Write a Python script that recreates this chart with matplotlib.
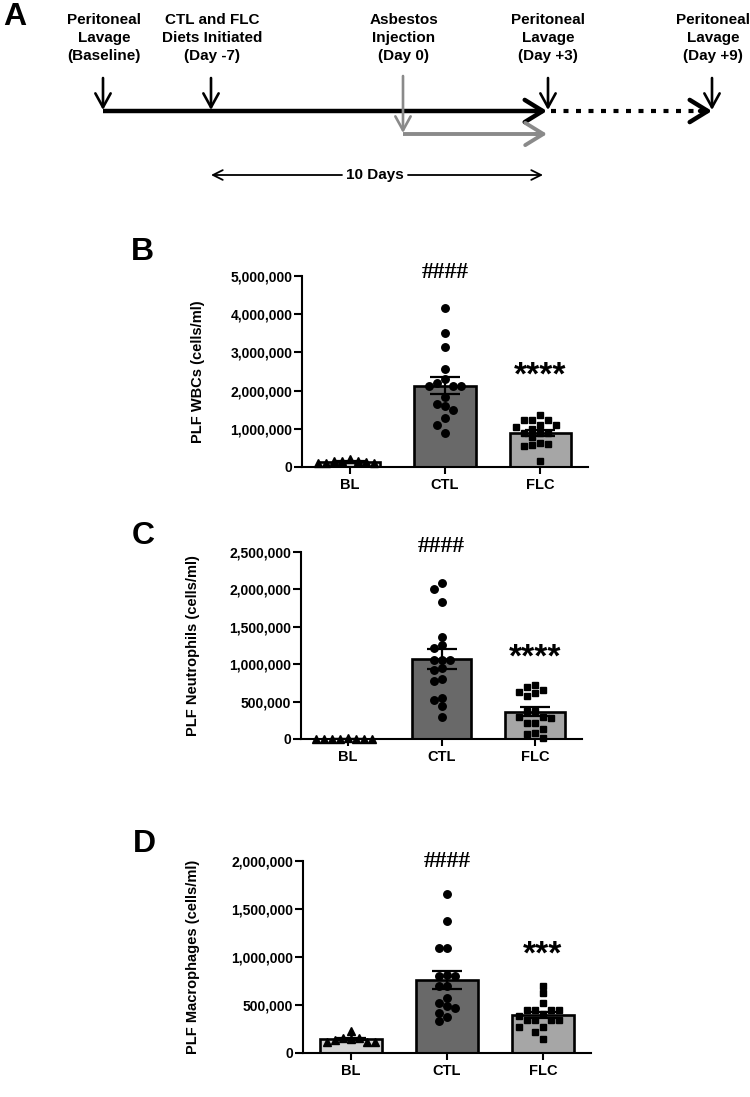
import numpy as np
import matplotlib
matplotlib.use("Agg")
import matplotlib.pyplot as plt
from matplotlib.ticker import FuncFormatter

plt.rcParams['font.family'] = ['Liberation Sans', 'DejaVu Sans']
plt.rcParams['font.weight'] = 'bold'

# groups
groups = ["BL", "CTL", "FLC"]

# panel B - white blood cells (millions of cells/ml)
bl_wbc = [0.17, 0.15, 0.10, 0.10, 0.10, 0.15, 0.21, 0.13]
ctl_wbc = [4.16, 3.52, 3.15, 2.57, 2.31, 2.19, 2.13, 2.13, 2.13, 1.82, 1.64, 1.59,
           1.49, 1.29, 1.11, 0.88]
flc_wbc = [1.35, 1.24, 1.24, 1.24, 1.10, 1.10, 1.06, 1.00, 0.89, 0.89, 0.89, 0.78,
           0.62, 0.58, 0.54, 0.61, 0.15]

# panel C - neutrophils
bl_neu = [0.004, 0.006, 0.005, 0.003, 0.006, 0.004, 0.005, 0.007]
ctl_neu = [2.08, 2.01, 1.83, 1.37, 1.26, 1.21, 1.06, 1.06, 1.06, 0.92, 0.95, 0.80,
           0.77, 0.55, 0.52, 0.44, 0.29]
flc_neu = [0.72, 0.69, 0.66, 0.63, 0.61, 0.57, 0.38, 0.37, 0.30, 0.29, 0.28, 0.22,
           0.22, 0.13, 0.08, 0.07, 0.02]

# panel D - macrophages
bl_mac = [0.16, 0.15, 0.11, 0.23, 0.11, 0.11, 0.14, 0.16]
ctl_mac = [1.66, 1.37, 1.09, 1.09, 0.80, 0.80, 0.81, 0.70, 0.70, 0.57, 0.52, 0.49,
           0.47, 0.42, 0.37, 0.33]
flc_mac = [0.70, 0.62, 0.52, 0.45, 0.45, 0.45, 0.45, 0.41, 0.39, 0.34, 0.34, 0.34,
           0.34, 0.27, 0.27, 0.22, 0.15]

# significance marks (height in millions)
hash_marks = ["####", "####", "####"]
hash_y = [5.09, 2.58, 1.99]
star_marks = ["****", "****", "***"]
star_y = [2.66, 1.22, 1.13]

ylabels = ["PLF WBCs (cells/ml)", "PLF Neutrophils (cells/ml)", "PLF Macrophages (cells/ml)"]
ymax = [5.0, 2.5, 2.0]
ystep = [1.0, 0.5, 0.5]

# timeline (panel A)
event_labels = ["Peritoneal\nLavage\n(Baseline)", "CTL and FLC\nDiets Initiated\n(Day -7)",
                "Asbestos\nInjection\n(Day 0)", "Peritoneal\nLavage\n(Day +3)",
                "Peritoneal\nLavage\n(Day +9)"]
event_x = [103, 211, 403, 547, 712]

W, H = 750, 1097
fig = plt.figure(figsize=(W / 100, H / 100), dpi=100)
fig.patch.set_facecolor('white')


def px_axes(l, t, r, b):
    return fig.add_axes([l / W, 1 - b / H, (r - l) / W, (b - t) / H])


# overlay for panel A and letters, in pixel units
ov = px_axes(0, 0, W, H)
ov.set_xlim(0, W)
ov.set_ylim(H, 0)
ov.axis('off')

for lab, x in zip(event_labels, event_x):
    ov.text(x + 1, 38, lab, ha='center', va='center', fontsize=11,
            fontweight='bold', linespacing=1.32)

line_y = 111
gray = '#8a8a8a'
big_head = 'head_length=1.3,head_width=0.8'
small_head = 'head_length=1.0,head_width=0.55'
# black down arrows
for x in [event_x[0], event_x[1], event_x[3] + 1, event_x[4]]:
    ov.annotate('', xy=(x, line_y - 1), xytext=(x, 78),
                arrowprops=dict(arrowstyle='->,' + small_head, lw=1.9, color='black',
                                shrinkA=0, shrinkB=0))
# main black timeline
ov.plot([event_x[0], event_x[3] - 10], [line_y, line_y], color='black', lw=3.2,
        solid_capstyle='butt')
ov.annotate('', xy=(event_x[3], line_y), xytext=(event_x[3] - 12, line_y),
            arrowprops=dict(arrowstyle='->,' + big_head, lw=3.2, color='black',
                            shrinkA=0, shrinkB=0))
# dotted follow-up
ov.plot([event_x[3] + 4, event_x[4] - 8], [line_y, line_y], color='black', lw=3.0,
        linestyle=(0, (1.2, 1.8)), dash_capstyle='butt')
ov.annotate('', xy=(event_x[4], line_y), xytext=(event_x[4] - 12, line_y),
            arrowprops=dict(arrowstyle='->,' + big_head, lw=3.2, color='black',
                            shrinkA=0, shrinkB=0))
# gray asbestos arrows
ov.annotate('', xy=(event_x[2], 133), xytext=(event_x[2], 76),
            arrowprops=dict(arrowstyle='->,' + small_head, lw=1.9, color=gray,
                            shrinkA=0, shrinkB=0))
ov.plot([event_x[2], event_x[3] - 10], [134, 134], color=gray, lw=2.8,
        solid_capstyle='butt')
ov.annotate('', xy=(event_x[3], 134), xytext=(event_x[3] - 12, 134),
            arrowprops=dict(arrowstyle='->,' + big_head, lw=2.8, color=gray,
                            shrinkA=0, shrinkB=0))
# 10 days span
ov.text(375, 175, "10 Days", ha='center', va='center', fontsize=11, fontweight='bold')
ov.annotate('', xy=(event_x[1], 175), xytext=(342, 175),
            arrowprops=dict(arrowstyle='->,head_length=0.7,head_width=0.35', lw=1.3,
                            color='black', shrinkA=0, shrinkB=0))
ov.annotate('', xy=(event_x[3] - 4, 175), xytext=(408, 175),
            arrowprops=dict(arrowstyle='->,head_length=0.7,head_width=0.35', lw=1.3,
                            color='black', shrinkA=0, shrinkB=0))

# panel letters
for letter, (lx, ly) in zip("ABCD", [(15, 17), (142, 252), (143, 536), (144, 844)]):
    ov.text(lx, ly, letter, ha='center', va='center', fontsize=23, fontweight='bold')

# bar panels
panel_boxes = [(302, 276, 588, 467), (301, 552, 582, 739), (303, 861, 591, 1053)]
label_x = [205, 200, 200]
datasets = [(bl_wbc, ctl_wbc, flc_wbc), (bl_neu, ctl_neu, flc_neu),
            (bl_mac, ctl_mac, flc_mac)]
bar_colors = ['#d3d3d3', '#696969', '#a6a6a6']
markers = ['^', 'o', 's']
msizes = [5.4, 5.4, 4.8]


def swarm(ax, x0, vals, diam):
    # column scatter: points closer than one marker in y share a row
    tr = ax.transData
    pts = np.array([tr.transform((x0, v)) for v in vals])
    sx = tr.transform((1, 0))[0] - tr.transform((0, 0))[0]
    offs = np.zeros(len(vals))
    placed = []
    for i in np.argsort(vals)[::-1]:
        px, py = pts[i]
        for k in [0, -1, 1, -2, 2, -3, 3, -4, 4, -5, 5, -6, 6, -7, 7, -8, 8]:
            cx = px + k * diam / 2
            if all(abs(cx - qx) >= diam or abs(py - qy) >= diam * 0.95
                   for qx, qy in placed):
                break
        placed.append((cx, py))
        offs[i] = (cx - px) / sx
    return offs


fmt = FuncFormatter(lambda v, p: f"{int(round(v)):,}")

for k, ax_box in enumerate(panel_boxes):
    ax = px_axes(*ax_box)
    ax.set_facecolor('none')
    ax.set_xlim(-0.5, 2.5)
    ax.set_ylim(0, ymax[k] * 1e6)
    for j, vals in enumerate(datasets[k]):
        v = np.array(vals) * 1e6
        mean = v.mean()
        sem = v.std(ddof=1) / np.sqrt(len(v))
        ax.bar(j, mean, width=0.64, color=bar_colors[j], edgecolor='black',
               linewidth=1.9, zorder=2)
        off = swarm(ax, j, v, 8.0)
        ax.plot(j + off, v, linestyle='none', marker=markers[j], markersize=msizes[j],
                color='black', zorder=3, clip_on=False)
        ax.errorbar(j, mean, yerr=sem, fmt='none', ecolor='black', elinewidth=1.6,
                    capsize=11, capthick=1.6, zorder=4)
    ax.text(1, hash_y[k] * 1e6, hash_marks[k], ha='center', va='center',
            family=['Liberation Serif'], fontweight='bold', fontsize=17)
    ax.annotate(star_marks[k], xy=(2, star_y[k] * 1e6), xytext=(0, -0.57 * 24),
                textcoords='offset points', ha='center', va='baseline',
                fontsize=24, fontweight='bold')
    ax.set_yticks(np.arange(0, ymax[k] + 1e-9, ystep[k]) * 1e6)
    ax.yaxis.set_major_formatter(fmt)
    ax.set_xticks(range(3))
    ax.set_xticklabels(groups)
    for s in ['top', 'right']:
        ax.spines[s].set_visible(False)
    for s in ['left', 'bottom']:
        ax.spines[s].set_linewidth(1.5)
    ax.tick_params(axis='y', width=1.5, length=5.5, pad=1.5, labelsize=10)
    ax.tick_params(axis='x', width=1.5, length=5, pad=3, labelsize=10.5)
    for t in ax.get_xticklabels() + ax.get_yticklabels():
        t.set_fontweight('bold')
    ax.set_ylabel(ylabels[k], fontsize=10.5, fontweight='bold')
    l, t, r, b = ax_box
    ax.yaxis.set_label_coords((label_x[k] - l) / (r - l), 0.5)

fig.savefig("out.png", dpi=100, facecolor='white')
